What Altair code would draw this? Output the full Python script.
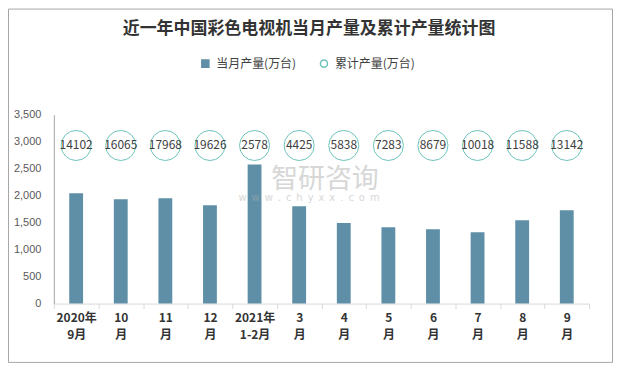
import altair as alt
import pandas as pd

title_text = "近一年中国彩色电视机当月产量及累计产量统计图"
categories = ["2020年\n9月", "10\n月", "11\n月", "12\n月", "2021年\n1-2月", "3\n月",
              "4\n月", "5\n月", "6\n月", "7\n月", "8\n月", "9\n月"]
monthly = [2045, 1933, 1952, 1823, 2578, 1805, 1496, 1416, 1380, 1324, 1546, 1730]
cumulative = [14102, 16065, 17968, 19626, 2578, 4425, 5838, 7283, 8679, 10018, 11588, 13142]
series_names = ["当月产量(万台)", "累计产量(万台)"]
y_ticks = [0, 500, 1000, 1500, 2000, 2500, 3000, 3500]
circle_level = 2930
watermark_main = "智研咨询"
watermark_sub = "\u2002".join("www.chyxx.com")

FONT = "Noto Sans CJK SC"
BAR = "#5e8fa7"
TEAL = "#6cc3bb"

df = pd.DataFrame({
    "cat": categories,
    "monthly": monthly,
    "cum": cumulative,
    "s1": [series_names[0]] * len(categories),
    "s2": [series_names[1]] * len(categories),
})

x_enc = alt.X(
    "cat:N", sort=categories, title=None,
    scale=alt.Scale(paddingInner=0, paddingOuter=0),
    axis=alt.Axis(
        labelExpr="split(datum.label, '\\n')", labelAngle=0,
        labelFont=FONT, labelFontSize=12, labelFontWeight="bold", labelColor="#333333",
        labelLineHeight=17, labelPadding=4,
        tickBand="extent", tickSize=5, tickColor="#d9d9d9",
        domainColor="#d9d9d9", grid=False,
    ),
)

y_scale = alt.Scale(domain=[0, 3500], nice=False)
y_axis = alt.Axis(values=y_ticks, format=",.0f", grid=False, ticks=False,
                  labelOverlap=False, tickCount=8,
                  labelFont="Liberation Sans", labelFontSize=11, labelColor="#595959",
                  labelPadding=13, domainColor="#a6a6a6")

base = alt.Chart(df)

bars = base.mark_bar(width=alt.RelativeBandSize(0.31)).encode(
    x=x_enc,
    y=alt.Y("monthly:Q", title=None, scale=y_scale, axis=y_axis),
    fill=alt.Fill("s1:N", scale=alt.Scale(domain=series_names, range=[BAR, "transparent"]),
                  legend=alt.Legend(title=None)),
)

circles = base.mark_point(shape="circle", size=908, filled=False, strokeWidth=1, opacity=1).encode(
    x=x_enc,
    y=alt.YDatum(circle_level, title=None, scale=y_scale, axis=y_axis),
    stroke=alt.Stroke("s2:N", scale=alt.Scale(domain=series_names, range=[BAR, TEAL]),
                      legend=alt.Legend(title=None)),
    shape=alt.Shape("s2:N", scale=alt.Scale(domain=series_names, range=["square", "circle"]),
                    legend=alt.Legend(title=None)),
)

labels = base.mark_text(font=FONT, fontSize=12, color="#404040").encode(
    x=x_enc,
    y=alt.YDatum(circle_level, title=None, scale=y_scale, axis=y_axis),
    text=alt.Text("cum:Q", format="d"),
)

one = alt.Chart(pd.DataFrame({"t": [watermark_main], "u": [watermark_sub], "h": [title_text]}))
wm1 = one.mark_text(font=FONT, fontSize=27, color="#b0b0b0", opacity=0.5).encode(
    x=alt.value(272), y=alt.value(65.5), text="t:N")
wm2 = one.mark_text(font="DejaVu Sans", fontSize=10, color="#b0b0b0", opacity=0.5).encode(
    x=alt.value(256), y=alt.value(84), text="u:N")
border = one.mark_rect(fill="transparent", stroke="#a6a6a6", strokeWidth=1).encode(
    x=alt.value(-45.5), x2=alt.value(560.5), y=alt.value(-106), y2=alt.value(248.5))
title = one.mark_text(font=FONT, fontSize=17, fontWeight="bold", color="#333333",
                      baseline="middle").encode(
    x=alt.value(256), y=alt.value(-86.5), text="h:N")

chart = alt.layer(border, title, bars, wm1, wm2, circles, labels).properties(
    width=537, height=189.5,
    autosize=alt.AutoSizeParams(type="none"),
    padding={"left": 46, "top": 106.5, "right": 24, "bottom": 59},
).configure_view(stroke=None).configure_legend(
    orient="none", legendX=146, legendY=-57.5, direction="horizontal",
    labelFont=FONT, labelFontSize=12, labelColor="#404040",
    symbolSize=50, symbolStrokeWidth=1.5, columnPadding=20, labelOffset=5,
)

chart.save("out.html", embed_options={"renderer": "svg", "actions": False})
